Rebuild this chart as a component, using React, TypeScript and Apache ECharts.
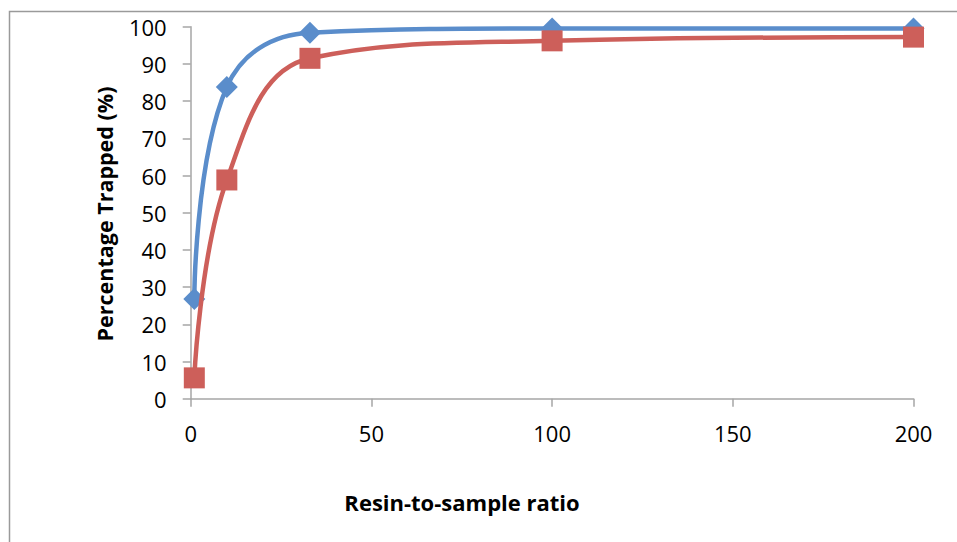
import React, { useEffect, useRef } from "react";
import * as echarts from "echarts";

const xValues = [1, 10, 33, 100, 200];
const blueValues = [26.8, 83.8, 98.4, 99.5, 99.5];
const redValues = [5.6, 58.8, 91.5, 96.2, 97.2];
const xTitle = "Resin-to-sample ratio";
const yTitle = "Percentage Trapped (%)";

const FONT = "'Open Sans', 'Liberation Sans', sans-serif";

export default function App() {
  const ref = useRef<HTMLDivElement>(null);
  useEffect(() => {
    if (!ref.current) return;
    const chart = echarts.init(ref.current, undefined, { renderer: "svg" });
    const axisColor = "#A6A6A6";
    chart.setOption({
      animation: false,
      backgroundColor: "#ffffff",
      grid: { left: 190.7, right: 43.5, top: 26.7, bottom: 143.3, containLabel: false },
      xAxis: {
        type: "value",
        min: 0,
        max: 200,
        interval: 50,
        axisLine: { show: true, lineStyle: { color: axisColor, width: 1.5 } },
        axisTick: { show: true, length: 8, inside: false, lineStyle: { color: axisColor, width: 1.5 } },
        splitLine: { show: false },
        axisLabel: { color: "#000", fontSize: 22, fontFamily: FONT, margin: 23 },
      },
      yAxis: {
        type: "value",
        min: 0,
        max: 100,
        interval: 10,
        axisLine: { show: true, lineStyle: { color: axisColor, width: 1.5 } },
        axisTick: { show: true, length: 8, inside: false, lineStyle: { color: axisColor, width: 1.5 } },
        splitLine: { show: false },
        axisLabel: { color: "#000", fontSize: 22, fontFamily: FONT, margin: 24 },
      },
      graphic: [
        {
          type: "rect",
          silent: true,
          shape: { x: 9.5, y: 11.5, width: 1200, height: 1200 },
          style: { fill: "none", stroke: "#9a9a9a", lineWidth: 1.5 },
          z: -1,
        },
        {
          type: "text",
          x: 104,
          y: 214,
          rotation: Math.PI / 2,
          style: {
            text: yTitle,
            fontSize: 21.5,
            fontWeight: "bold",
            fontFamily: FONT,
            fill: "#000",
            align: "center",
            verticalAlign: "middle",
          },
        },
        {
          type: "text",
          x: 462,
          y: 502,
          style: {
            text: xTitle,
            fontSize: 22,
            fontWeight: "bold",
            fontFamily: FONT,
            fill: "#000",
            align: "center",
            verticalAlign: "middle",
          },
        },
      ],
      series: [
        {
          type: "line",
          data: xValues.map((x, i) => [x, blueValues[i]]),
          smooth: 0.4,
          symbol: "diamond",
          symbolSize: 22,
          lineStyle: { color: "#5A8DCB", width: 4.5 },
          itemStyle: { color: "#5A8DCB" },
          z: 2,
        },
        {
          type: "line",
          data: xValues.map((x, i) => [x, redValues[i]]),
          smooth: 0.4,
          symbol: "rect",
          symbolSize: 21,
          lineStyle: { color: "#CD5F5A", width: 4.5 },
          itemStyle: { color: "#CD5F5A" },
          z: 3,
        },
      ],
    });
    return () => chart.dispose();
  }, []);
  return (
    <div
      ref={ref}
      style={{ position: "fixed", left: 0, top: 0, width: 957, height: 542 }}
    />
  );
}
